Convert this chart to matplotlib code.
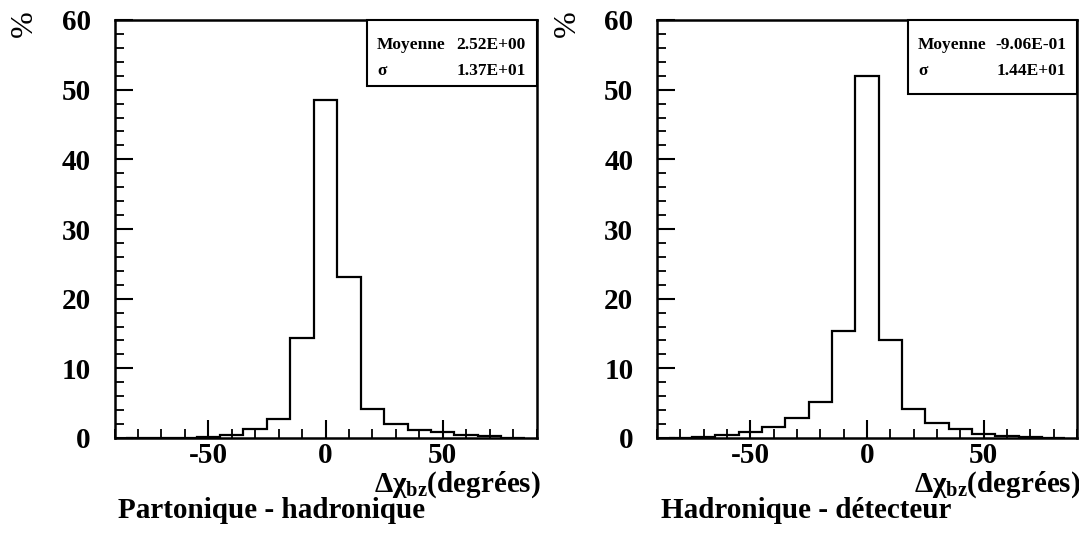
import numpy as np
import matplotlib
matplotlib.use("Agg")
import matplotlib.pyplot as plt
from matplotlib.ticker import MultipleLocator, FixedLocator
from matplotlib.patches import Rectangle

plt.rcParams['font.family'] = ['Liberation Serif', 'DejaVu Serif']
plt.rcParams['font.weight'] = 'bold'
plt.rcParams['mathtext.fontset'] = 'custom'
plt.rcParams['mathtext.rm'] = 'Liberation Serif:bold'
plt.rcParams['mathtext.it'] = 'Liberation Serif:bold'
plt.rcParams['mathtext.bf'] = 'Liberation Serif:bold'

# Bin centres (degrees) and percentages per bin
bin_centres = [-80, -70, -60, -50, -40, -30, -20, -10, 0, 10, 20, 30, 40, 50, 60, 70, 80]
parton_hadron = [0, 0, 0.05, 0.2, 0.5, 1.25, 2.7, 14.3, 48.5, 23.1, 4.2, 2.0, 1.15, 0.8, 0.5, 0.3, 0.05]
hadron_detector = [0, 0.1, 0.4, 0.85, 1.6, 2.8, 5.2, 15.3, 52.0, 14.0, 4.2, 2.15, 1.3, 0.6, 0.3, 0.15, 0.05]

titles = ["Partonique - hadronique", "Hadronique - détecteur"]
means = ["2.52E+00", "-9.06E-01"]
sigmas = ["1.37E+01", "1.44E+01"]
x_ticks = [-50, 0, 50]
y_ticks = [0, 10, 20, 30, 40, 50, 60]

W, H = 1079, 539
fig = plt.figure(figsize=(W / 100, H / 100), dpi=100)

axes_px = [(114.5, 422), (657, 420)]
top_px, bottom_px = 20, 438
box_px = [(367, 86), (908, 94)]
series = [parton_hadron, hadron_detector]

width = 10
edges = np.array([c - width / 2 for c in bin_centres] + [bin_centres[-1] + width / 2])

for i, (x0, w) in enumerate(axes_px):
    ax = fig.add_axes([x0 / W, (H - bottom_px) / H, w / W, (bottom_px - top_px) / H])
    ax.stairs(series[i], edges, color='black', linewidth=1.6)
    ax.set_xlim(-90, 90)
    ax.set_ylim(0, 60)
    for s in ['top', 'right', 'left', 'bottom']:
        ax.spines[s].set_linewidth(1.8)
    ax.xaxis.set_major_locator(FixedLocator(x_ticks))
    ax.xaxis.set_minor_locator(MultipleLocator(10))
    ax.yaxis.set_major_locator(FixedLocator(y_ticks))
    ax.yaxis.set_minor_locator(MultipleLocator(2))
    ax.tick_params(which='major', direction='in', length=13, width=1.5,
                   labelsize=21, top=False, right=False)
    ax.tick_params(which='minor', direction='in', length=6.5, width=1.3,
                   top=False, right=False)
    ax.tick_params(axis='x', which='major', pad=3)
    ax.tick_params(axis='y', which='major', pad=17)
    ax.set_xticklabels(["-50", "0", "50"])
    for lab in ax.get_xticklabels() + ax.get_yticklabels():
        lab.set_fontweight('bold')

    # statistics box in the upper-right corner
    bx, bb = box_px[i]
    right = x0 + w
    rect = Rectangle((bx / W, (H - bb) / H), (right - bx) / W, (bb - top_px) / H,
                     transform=fig.transFigure, facecolor='white', edgecolor='black',
                     linewidth=1.5, zorder=5)
    fig.patches.append(rect)
    fig.text((bx + 10) / W, (H - 45) / H, "Moyenne", fontsize=12.5, fontweight='bold',
             va='center', ha='left', zorder=6)
    fig.text((bx + 10) / W, (H - 71) / H, "σ", fontsize=12.5, fontweight='bold',
             va='center', ha='left', zorder=6)
    fig.text((right - 11) / W, (H - 45) / H, means[i], fontsize=12.5, fontweight='bold',
             va='center', ha='right', zorder=6)
    fig.text((right - 11) / W, (H - 71) / H, sigmas[i], fontsize=12.5, fontweight='bold',
             va='center', ha='right', zorder=6)

    # axis labels
    fig.text((x0 - 90) / W, (H - 24) / H, "%", fontsize=23, rotation=90,
             ha='center', va='center', fontweight='normal')
    fig.text((right + 4) / W, (H - 492) / H, r"$\Delta\chi_{bz}$(degrées)",
             fontsize=21, ha='right', va='baseline', fontweight='bold')
    fig.text((x0 + 4) / W, (H - 518) / H, titles[i], fontsize=21,
             ha='left', va='baseline', fontweight='bold')

fig.savefig("out.png", dpi=100)
